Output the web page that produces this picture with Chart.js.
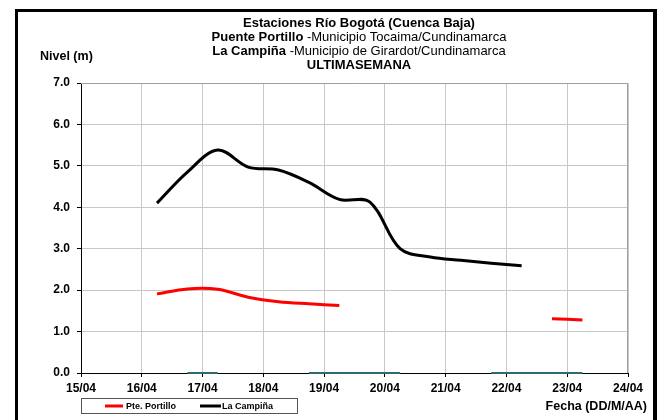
<!DOCTYPE html>
<html>
<head>
<meta charset="utf-8">
<script src="https://cdn.jsdelivr.net/npm/chart.js@4/dist/chart.umd.min.js"></script>
<style>
html,body{margin:0;padding:0;background:#fff;}
#wrap{position:relative;width:658px;height:420px;}
</style>
</head>
<body>
<div id="wrap"><canvas id="c" width="658" height="420"></canvas></div>
<script>
// Tick labels (days)
const dateLabels = ['15/04','16/04','17/04','18/04','19/04','20/04','21/04','22/04','23/04','24/04'];
// Sample times, in days after 15/04 00:00 (every 12 h)
const times = [1.25,1.75,2.25,2.75,3.25,3.75,4.25,4.75,5.25,5.75,6.25,6.75,7.25,7.75,8.25];
// Nivel (m)
const portillo = [1.91,2.03,2.02,1.83,1.72,1.67,1.63,null,null,null,null,null,null,1.31,1.28];
const campina  = [4.10,4.85,5.38,4.97,4.90,4.60,4.19,4.13,3.00,2.80,2.72,2.65,2.59,null,null];
const zeroLine = [null,0,0,null,null,0,0,0,0,null,null,0,0,0,0];

const titleLines = [
  [['Estaciones Río Bogotá (Cuenca Baja)', true]],
  [['Puente Portillo', true], [' -Municipio Tocaima/Cundinamarca', false]],
  [['La Campiña', true], [' -Municipio de Girardot/Cundinamarca', false]],
  [['ULTIMASEMANA', true]]
];
const yTitle = 'Nivel (m)';
const xTitle = 'Fecha (DD/M/AA)';
const legendItems = [['Pte. Portillo', '#ff0000'], ['La Campiña', '#000000']];

const toPts = arr => times.map((t, i) => ({x: t, y: arr[i]}));
const FONT = '"Liberation Sans", Arial, sans-serif';

const decor = {
  id: 'decor',
  afterDraw(chart) {
    const ctx = chart.ctx;
    const a = chart.chartArea;
    ctx.save();
    // plot border (top, right)
    ctx.strokeStyle = '#a0a0a0';
    ctx.lineWidth = 1;
    ctx.beginPath();
    ctx.moveTo(a.left, a.top + 0.5);
    ctx.lineTo(a.right - 0.5, a.top + 0.5);
    ctx.lineTo(a.right - 0.5, a.bottom);
    ctx.stroke();
    // outer frame
    ctx.fillStyle = '#000';
    ctx.fillRect(15, 9, 642, 3);
    ctx.fillRect(15, 9, 3, 420);
    ctx.fillRect(653, 9, 4, 420);
    // title
    ctx.textBaseline = 'middle';
    const ys = [23, 37, 51, 65];
    titleLines.forEach((parts, li) => {
      let total = 0;
      parts.forEach(p => { ctx.font = (p[1] ? 'bold ' : '') + '13px ' + FONT; total += ctx.measureText(p[0]).width; });
      let x = 359 - total / 2;
      ctx.textAlign = 'left';
      parts.forEach(p => {
        ctx.font = (p[1] ? 'bold ' : '') + '13px ' + FONT;
        ctx.fillText(p[0], x, ys[li]);
        x += ctx.measureText(p[0]).width;
      });
    });
    // axis titles
    ctx.font = 'bold 12.5px ' + FONT;
    ctx.textAlign = 'left';
    ctx.fillText(yTitle, 40, 57);
    ctx.textAlign = 'right';
    ctx.fillText(xTitle, 647, 407);
    // legend
    ctx.fillStyle = '#fff';
    ctx.fillRect(81, 398, 216, 15);
    ctx.strokeStyle = '#555';
    ctx.lineWidth = 1;
    ctx.strokeRect(81.5, 398.5, 216, 15);
    const lx = [[105, 123, 126], [200, 221, 222]];
    ctx.font = 'bold 9px ' + FONT;
    ctx.textAlign = 'left';
    legendItems.forEach((it, i) => {
      ctx.strokeStyle = it[1];
      ctx.lineWidth = 3;
      ctx.beginPath();
      ctx.moveTo(lx[i][0], 406);
      ctx.lineTo(lx[i][1], 406);
      ctx.stroke();
      ctx.fillStyle = '#000';
      ctx.fillText(it[0], lx[i][2], 406.5);
    });
    ctx.restore();
  }
};

new Chart(document.getElementById('c'), {
  type: 'line',
  data: {
    datasets: [
      {label: 'zero', data: toPts(zeroLine), borderColor: '#2f6b6b', borderWidth: 2, pointRadius: 0, tension: 0, spanGaps: false, clip: false},
      {label: legendItems[0][0], data: toPts(portillo), borderColor: '#ff0000', borderWidth: 3, pointRadius: 0, tension: 0.35, spanGaps: false},
      {label: legendItems[1][0], data: toPts(campina), borderColor: '#000000', borderWidth: 3, pointRadius: 0, tension: 0.35, spanGaps: false}
    ]
  },
  options: {
    responsive: false,
    animation: false,
    layout: {padding: {left: 20, top: 83, right: 30, bottom: 10}},
    plugins: {legend: {display: false}, tooltip: {enabled: false}, title: {display: false}},
    scales: {
      x: {
        type: 'linear', min: 0, max: 9,
        grid: {color: '#c8c8c8', tickColor: '#000', tickLength: 4, drawOnChartArea: true},
        border: {color: '#000', width: 1},
        ticks: {stepSize: 1, autoSkip: false, maxRotation: 0, padding: 4,
          color: '#000', font: {family: FONT, size: 12, weight: 'bold'},
          callback: v => dateLabels[v]},
        afterFit: s => { s.height = 37; }
      },
      y: {
        min: 0, max: 7,
        grid: {color: '#c8c8c8', tickColor: '#000', tickLength: 4},
        border: {color: '#000', width: 1},
        ticks: {stepSize: 1, padding: 7, color: '#000', font: {family: FONT, size: 12, weight: 'bold'},
          callback: v => v.toFixed(1)},
        afterFit: s => { s.width = 61; }
      }
    }
  },
  plugins: [decor]
});
</script>
</body>
</html>
